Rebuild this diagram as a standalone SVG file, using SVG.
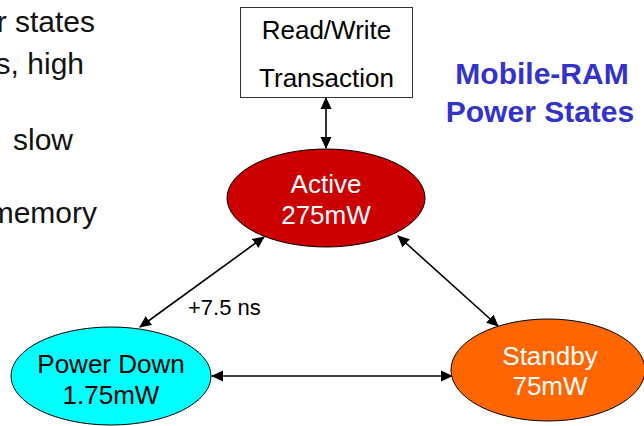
<svg xmlns="http://www.w3.org/2000/svg" width="644" height="426" viewBox="0 0 644 426">
<style>
text{font-family:"Liberation Sans",Arial,sans-serif}
.bg{font-size:30px;fill:#111}
.title{font-size:30px;font-weight:bold;fill:#3333CC;text-anchor:middle}
.n{font-size:26px;text-anchor:middle}
.w{fill:#fff}
.k{fill:#000}
.edge{stroke:#000;stroke-width:1.6;fill:none;marker-start:url(#ah);marker-end:url(#ah)}
.shape{stroke:#000;stroke-width:1}
</style>
<defs>
<marker id="ah" viewBox="0 0 12 12" refX="11" refY="6" markerWidth="12" markerHeight="12" markerUnits="userSpaceOnUse" orient="auto-start-reverse">
<path d="M0,0.5 L12,6 L0,11.5 Z" fill="#000"/>
</marker>
</defs>
<g id="bullets">
<text class="bg" x="95" y="32" text-anchor="end">r states</text>
<text class="bg" x="84" y="74" text-anchor="end">s, high</text>
<text class="bg" x="73" y="150" text-anchor="end">slow</text>
<text class="bg" x="97" y="223" text-anchor="end">memory</text>
</g>
<g id="title">
<text class="title" x="542" y="84">Mobile-RAM</text>
<text class="title" x="540" y="122">Power States</text>
</g>
<g id="connectors">
<line class="edge" x1="326" y1="98" x2="326" y2="148"/>
<line class="edge" x1="264" y1="237" x2="140" y2="327"/>
<line class="edge" x1="398" y1="236" x2="498" y2="326"/>
<line class="edge" x1="212" y1="376" x2="452" y2="376"/>
<text x="188" y="315" font-size="22" fill="#000">+7.5 ns</text>
</g>
<g id="rw">
<rect x="240.5" y="7.5" width="172" height="90" fill="#fff" stroke="#333" stroke-width="1"/>
<text class="n k" x="326.5" y="39">Read/Write</text>
<text class="n k" x="326.5" y="87">Transaction</text>
</g>
<g id="active">
<ellipse class="shape" cx="326" cy="198" rx="99" ry="49" fill="#CC0000"/>
<text class="n w" x="326" y="193">Active</text>
<text class="n w" x="326" y="224">275mW</text>
</g>
<g id="powerdown">
<ellipse class="shape" cx="111" cy="376" rx="100" ry="49" fill="#00FFFF"/>
<text class="n k" x="111" y="373">Power Down</text>
<text class="n k" x="111" y="404">1.75mW</text>
</g>
<g id="standby">
<ellipse class="shape" cx="548" cy="370" rx="97" ry="51" fill="#FF6600"/>
<text class="n w" x="550" y="365">Standby</text>
<text class="n w" x="550" y="395">75mW</text>
</g>
</svg>
